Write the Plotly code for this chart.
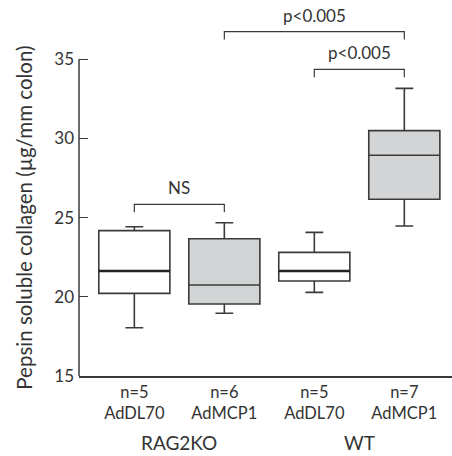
import plotly.graph_objects as go

groups = ["RAG2KO", "RAG2KO", "WT", "WT"]
treatments = ["AdDL70", "AdMCP1", "AdDL70", "AdMCP1"]
n_values = [5, 6, 5, 7]
lower_whisker = [18.05, 18.96, 20.28, 24.47]
q1 = [20.22, 19.55, 21.0, 26.16]
median = [21.63, 20.75, 21.63, 28.94]
q3 = [24.18, 23.67, 22.81, 30.5]
upper_whisker = [24.43, 24.68, 24.07, 33.17]
fills = ["white", "#d3d4d6", "white", "#d3d4d6"]
y_ticks = [15, 20, 25, 30, 35]
y_title = "Pepsin soluble collagen (µg/mm colon)"

# comparisons: (from index, to index, label, bracket top value)
comparisons = [(0, 1, "NS", 25.84), (2, 3, "p<0.005", 34.37), (1, 3, "p<0.005", 36.75)]

LINE = "#3a3a3a"
TEXT = "#333333"
FONT = "Lato"
BW = 0.79

fig = go.Figure()
for i in range(4):
    fig.add_trace(go.Box(
        x=[i], q1=[q1[i]], median=[median[i]], q3=[q3[i]],
        lowerfence=[lower_whisker[i]], upperfence=[upper_whisker[i]],
        width=BW, whiskerwidth=0.25, fillcolor=fills[i],
        line=dict(color=LINE, width=1.6), boxpoints=False,
        showlegend=False, hoverinfo="skip",
    ))
    if fills[i] == "white":
        fig.add_trace(go.Scatter(
            x=[i - BW / 2, i + BW / 2], y=[median[i], median[i]], mode="lines",
            line=dict(color="#222", width=2.6), showlegend=False, hoverinfo="skip"))

for a, b, label, top in comparisons:
    leg = top - 0.5
    fig.add_trace(go.Scatter(
        x=[a, a, b, b], y=[leg, top, top, leg], mode="lines",
        line=dict(color=LINE, width=1.2), showlegend=False, hoverinfo="skip"))
    fig.add_annotation(x=(a + b) / 2, y=top + 1.05, text=label, showarrow=False,
                       font=dict(size=17, color=TEXT, family=FONT), yanchor="middle")

ticktext = [f"n={n}<br>{t}" for n, t in zip(n_values, treatments)]

fig.update_layout(
    width=452, height=456,
    margin=dict(l=79, r=0, t=0, b=80),
    plot_bgcolor="white", paper_bgcolor="white",
    font=dict(family=FONT, color=TEXT, size=16),
    xaxis=dict(range=[-0.615, 3.53], tickvals=[0, 1, 2, 3], ticktext=ticktext,
               showline=True, linecolor=LINE, linewidth=1.5, showgrid=False,
               zeroline=False, ticks="", tickfont=dict(size=16.5, color=TEXT)),
    yaxis=dict(range=[15, 38.75], tickvals=y_ticks, ticks="inside", ticklen=9,
               tickcolor=LINE, tickwidth=1.3, showgrid=False, zeroline=False,
               showline=False, tickfont=dict(size=17, color=TEXT), ticklabelstandoff=4),
)
fig.add_shape(type="line", xref="paper", yref="y", x0=0, x1=0, y0=y_ticks[0], y1=y_ticks[-1],
              line=dict(color=LINE, width=1.5))

# y-axis title centred on the drawn axis span
fig.add_annotation(x=-0.1475, xref="paper", y=(y_ticks[0] + y_ticks[-1]) / 2, yref="y",
                   text=y_title, textangle=-90, showarrow=False,
                   font=dict(size=20.5, color=TEXT, family=FONT),
                   xanchor="center", yanchor="middle")

# group labels
for g in ["RAG2KO", "WT"]:
    idx = [i for i, gg in enumerate(groups) if gg == g]
    fig.add_annotation(x=sum(idx) / len(idx), y=-0.178, yref="paper", text=g,
                       showarrow=False, font=dict(size=19, color=TEXT, family=FONT),
                       yanchor="middle")

fig.write_html("out.html")
